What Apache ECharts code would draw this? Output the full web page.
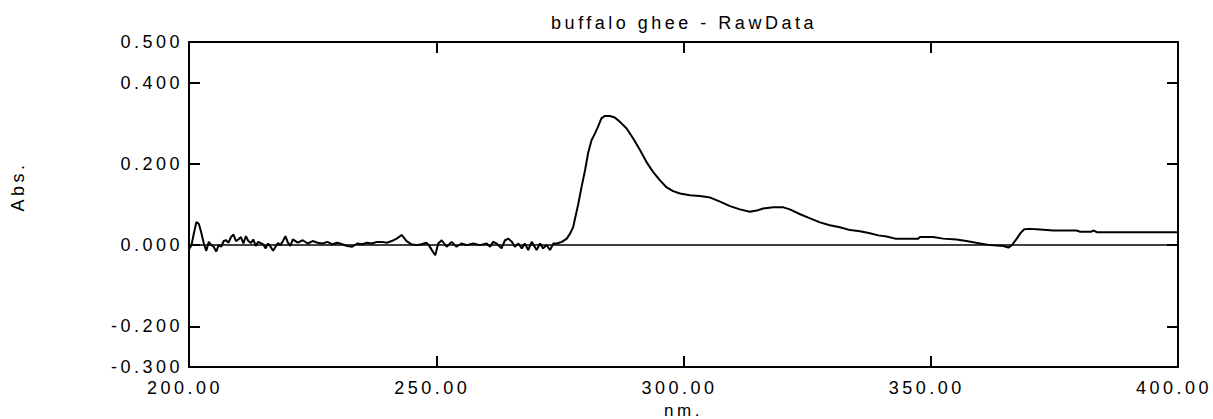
<!DOCTYPE html>
<html><head><meta charset="utf-8">
<script src="https://cdn.jsdelivr.net/npm/echarts@6/dist/echarts.min.js"></script>
<style>
html,body{margin:0;padding:0;background:#fff;overflow:hidden;}
#chart{width:1213px;height:419px;}
#chart svg text{letter-spacing:3.5px;}
</style></head><body><div id="chart"></div>
<script>
const chartTitle = 'buffalo ghee - RawData';
const xName = 'nm.';
const yName = 'Abs.';
const wavelengths = [
 200.0,200.5,201.0,201.5,202.0,202.5,203.0,203.5,204.0,204.5,205.0,205.5,206.0,206.5,207.0,207.5,208.0,208.5,209.0,209.5,
 210.0,210.5,211.0,211.5,212.0,212.5,213.0,213.5,214.0,215.0,215.5,216.0,216.5,217.0,217.5,218.0,218.5,219.0,219.5,220.0,
 220.5,221.0,222.0,223.0,224.0,225.0,226.0,227.0,228.0,229.0,230.0,231.0,232.0,233.0,234.0,235.0,236.0,237.0,238.0,239.0,
 240.0,241.0,242.0,243.0,244.0,245.0,246.0,247.0,248.0,248.5,249.3,249.8,250.4,251.1,252.1,253.1,254.1,255.1,256.2,257.5,
 258.8,260.2,260.9,261.5,262.2,263.2,263.9,264.6,265.3,265.9,266.6,267.3,267.9,268.6,269.3,270.3,271.0,271.6,272.3,273.0,
 273.7,274.4,275.4,276.4,277.1,277.7,278.0,278.7,279.4,280.1,280.7,281.4,282.1,282.7,283.4,284.1,285.1,286.1,287.1,288.5,
 289.8,291.2,292.5,293.8,295.2,296.6,297.9,299.3,301.3,303.3,305.4,307.4,309.4,311.4,313.4,314.8,316.1,318.2,320.2,321.5,
 323.6,325.6,327.6,329.6,331.6,333.7,335.7,337.7,339.4,341.1,342.8,345.1,347.5,347.8,350.5,352.5,355.2,357.2,360.0,362.0,
 364.7,365.7,366.4,367.4,368.1,368.9,370.1,371.4,374.8,379.5,380.2,382.5,382.9,383.6,400.0
];
const absorbance = [
 -0.010,0.000,0.030,0.057,0.052,0.030,0.004,-0.014,0.008,0.000,-0.004,-0.016,0.000,-0.004,0.010,0.012,0.006,0.020,0.026,0.010,
 0.014,0.020,0.004,0.022,0.010,0.005,0.014,-0.002,0.008,0.002,-0.008,0.004,-0.004,-0.014,-0.004,0.005,0.000,0.010,0.022,0.006,
 -0.002,0.014,0.006,0.012,0.004,0.010,0.006,0.004,0.008,0.002,0.006,0.002,-0.002,-0.004,0.004,0.002,0.006,0.004,0.008,0.008,
 0.006,0.010,0.016,0.025,0.010,0.002,0.000,0.002,0.006,0.000,-0.016,-0.025,0.004,0.012,-0.004,0.008,-0.004,0.004,0.000,0.004,
 0.000,0.004,-0.004,0.008,0.004,-0.008,0.012,0.016,0.008,-0.004,0.004,-0.008,0.004,-0.012,0.008,-0.012,0.004,-0.008,0.000,-0.012,
 0.004,0.004,0.008,0.016,0.029,0.045,0.062,0.100,0.144,0.185,0.226,0.258,0.275,0.291,0.312,0.318,0.318,0.314,0.304,0.287,
 0.263,0.234,0.205,0.181,0.160,0.142,0.133,0.127,0.123,0.121,0.117,0.107,0.096,0.088,0.082,0.085,0.090,0.093,0.093,0.088,
 0.076,0.066,0.056,0.049,0.044,0.037,0.034,0.029,0.024,0.021,0.016,0.016,0.016,0.020,0.020,0.016,0.014,0.010,0.004,0.000,
 -0.002,-0.006,0.000,0.016,0.029,0.039,0.040,0.039,0.036,0.036,0.033,0.033,0.036,0.032,0.032
];
const xTickValues = [200, 250, 300, 350, 400];
const xInnerTicks = [250, 300, 350];
const yLabelValues = [0.5, 0.4, 0.2, 0, -0.2, -0.3];
const yInnerTicks = [0.4, 0.2, 0, -0.2];

const points = wavelengths.map((w, i) => [w, absorbance[i]]);
const font = 'Liberation Sans';
const black = '#000';
const fs = 18;
const chart = echarts.init(document.getElementById('chart'), null, {renderer: 'svg'});
chart.setOption({
  animation: false,
  backgroundColor: '#fff',
  textStyle: {fontFamily: font, color: black},
  title: {
    text: chartTitle, left: 679, top: 9, textAlign: 'center',
    textStyle: {fontFamily: font, fontSize: fs, fontWeight: 'normal', color: black}
  },
  grid: {left: 189, right: 35, top: 42, bottom: 52, containLabel: false, outerBoundsMode: 'none'},
  xAxis: [{
    type: 'value', min: 200, max: 400, interval: 50,
    name: xName, nameLocation: 'middle', nameGap: 30,
    nameTextStyle: {fontFamily: font, fontSize: 17, color: black},
    axisLine: {show: true, onZero: false, lineStyle: {color: black, width: 2}},
    axisTick: {show: true, inside: true, length: 11, customValues: xInnerTicks, lineStyle: {color: black, width: 2}},
    axisLabel: {show: true, margin: 12, fontFamily: font, fontSize: fs, color: black,
      padding: [0, 8, 0, 0],
      customValues: xTickValues, formatter: v => Number(v).toFixed(2)},
    splitLine: {show: false}
  }, {
    type: 'value', min: 200, max: 400, interval: 50, position: 'top',
    axisLine: {show: true, onZero: false, lineStyle: {color: black, width: 2}},
    axisTick: {show: true, inside: true, length: 11, customValues: xInnerTicks, lineStyle: {color: black, width: 2}},
    axisLabel: {show: false}, splitLine: {show: false}
  }],
  yAxis: [{
    type: 'value', min: -0.3, max: 0.5, interval: 0.1,
    name: yName, nameLocation: 'middle', nameGap: 162, nameRotate: 90,
    nameTextStyle: {fontFamily: font, fontSize: fs, color: black, padding: [0, 0, 0, 36]},
    axisLine: {show: true, onZero: false, lineStyle: {color: black, width: 2}},
    axisTick: {show: true, inside: true, length: 11, customValues: yInnerTicks, lineStyle: {color: black, width: 2}},
    axisLabel: {show: true, margin: 6, fontFamily: font, fontSize: fs, color: black,
      customValues: yLabelValues, formatter: v => Number(v).toFixed(3)},
    splitLine: {show: false}
  }, {
    type: 'value', min: -0.3, max: 0.5, interval: 0.1, position: 'right',
    axisLine: {show: true, onZero: false, lineStyle: {color: black, width: 2}},
    axisTick: {show: true, inside: true, length: 11, customValues: yInnerTicks, lineStyle: {color: black, width: 2}},
    axisLabel: {show: false}, splitLine: {show: false}
  }],
  series: [{
    type: 'line', xAxisIndex: 0, yAxisIndex: 0,
    data: points, showSymbol: false, symbol: 'none',
    lineStyle: {color: black, width: 2},
    markLine: {
      silent: true, symbol: ['none', 'none'], label: {show: false},
      lineStyle: {color: black, width: 1.5, type: 'solid'},
      data: [{yAxis: 0}]
    }
  }]
});
</script></body></html>
